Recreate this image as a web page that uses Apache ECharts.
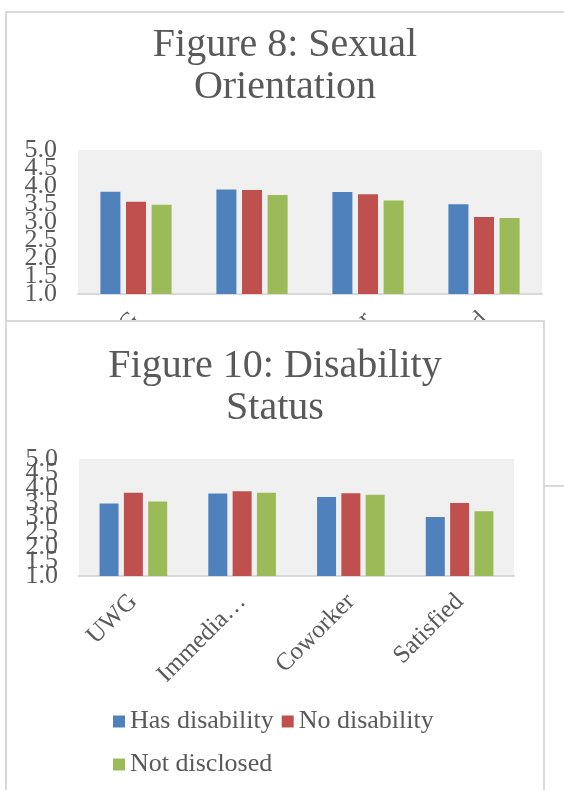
<!DOCTYPE html>
<html>
<head>
<meta charset="utf-8">
<script src="https://cdn.jsdelivr.net/npm/echarts@6/dist/echarts.min.js"></script>
<style>
  html, body { margin: 0; padding: 0; background: #ffffff; overflow: hidden; width: 564px; height: 790px; }
  .panel { position: absolute; background: #ffffff; border: 2px solid #d9d9d9; }
  #orientation { left: 5px; top: 11px; width: 600px; height: 472px; z-index: 1; }
  #disability { left: 5px; top: 320px; width: 536px; height: 500px; z-index: 2; }
</style>
</head>
<body>
<div id="orientation" class="panel"></div>
<div id="disability" class="panel"></div>
<script>
// Category tick labels shared by both figures
var categories = ['UWG', 'Immedia\u2026', 'Coworker', 'Satisfied'];
var yTicks = { min: 1, max: 5, step: 0.5 };

// Figure 8: Sexual Orientation (mean scores)
var orientationNames = ['Heterosexual', 'LGBTQ+', 'Not disclosed'];
var orientationA = [3.84, 3.90, 3.83, 3.49];
var orientationB = [3.56, 3.89, 3.77, 3.14];
var orientationC = [3.48, 3.75, 3.60, 3.11];

// Figure 10: Disability Status (mean scores)
var disabilityNames = ['Has disability', 'No disability', 'Not disclosed'];
var hasDisability = [3.48, 3.82, 3.70, 3.02];
var noDisability = [3.85, 3.90, 3.83, 3.50];
var notDisclosed = [3.55, 3.85, 3.78, 3.21];

var palette = ['#4f81bd', '#c0504d', '#9bbb59'];
var FONT = '"Liberation Serif", "DejaVu Serif", serif';
var INK = '#595959';

// The tick labels are large and packed tightly, so ECharts would drop the
// label next to an overlapping end label. Inner ticks go on one axis and the
// two end ticks on a second, coincident axis, so every label is drawn.
function valueAxis(endsOnly) {
  return {
    type: 'value',
    position: 'left',
    offset: 0,
    min: yTicks.min, max: yTicks.max, interval: yTicks.step,
    axisLine: { show: false },
    axisTick: { show: false },
    splitLine: { show: false },
    axisLabel: {
      margin: 21, fontFamily: FONT, fontSize: 26, color: INK,
      showMinLabel: endsOnly, showMaxLabel: endsOnly,
      formatter: function (v) {
        var isEnd = v === yTicks.min || v === yTicks.max;
        if (endsOnly && !isEnd) return '';
        return v.toFixed(1);
      }
    }
  };
}

function buildOption(cfg) {
  var series = cfg.values.map(function (vals, i) {
    return {
      name: cfg.names[i],
      type: 'bar',
      yAxisIndex: 0,
      data: vals,
      barWidth: cfg.barWidth,
      barGap: '28%',
      itemStyle: { color: palette[i] },
      emphasis: { disabled: true }
    };
  });
  return {
    animation: false,
    color: palette,
    title: {
      text: cfg.title,
      left: cfg.titleX,
      top: cfg.titleY,
      textAlign: 'center',
      padding: 0,
      textStyle: { fontFamily: FONT, fontSize: 40, fontWeight: 'normal', color: INK, lineHeight: 42 }
    },
    legend: cfg.legend,
    grid: {
      left: cfg.grid[0], top: cfg.grid[1], width: cfg.grid[2], height: cfg.grid[3],
      show: true, backgroundColor: '#f0f0f0', borderWidth: 0,
      containLabel: false, outerBoundsMode: 'none'
    },
    xAxis: {
      type: 'category',
      data: categories,
      axisTick: { show: false },
      axisLine: { lineStyle: { color: '#d9d9d9', width: 2 } },
      axisLabel: {
        rotate: 45, margin: 22, interval: 0,
        fontFamily: FONT, fontSize: 25, color: INK
      }
    },
    yAxis: [valueAxis(false), valueAxis(true)],
    series: series
  };
}

var topChart = echarts.init(document.getElementById('orientation'), null, { renderer: 'canvas' });
topChart.setOption(buildOption({
  title: 'Figure 8: Sexual\nOrientation',
  titleX: 278, titleY: 11,
  names: orientationNames,
  values: [orientationA, orientationB, orientationC],
  barWidth: 20,
  grid: [71, 137, 464, 144],
  legend: { show: false }
}));

var bottomChart = echarts.init(document.getElementById('disability'), null, { renderer: 'canvas' });
bottomChart.setOption(buildOption({
  title: 'Figure 10: Disability\nStatus',
  titleX: 268, titleY: 23,
  names: disabilityNames,
  values: [hasDisability, noDisability, notDisclosed],
  barWidth: 19,
  grid: [72, 137, 435, 117],
  legend: {
    data: disabilityNames,
    left: 106, top: 382, width: 330,
    padding: 0, itemGap: 8, itemWidth: 12, itemHeight: 12,
    icon: 'rect',
    textStyle: { fontFamily: FONT, fontSize: 26, color: INK, lineHeight: 35 }
  }
}));
</script>
</body>
</html>
